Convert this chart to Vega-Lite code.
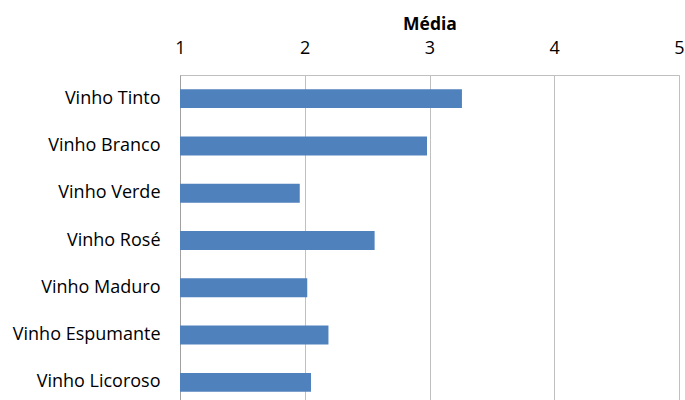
{
  "$schema": "https://vega.github.io/schema/vega-lite/v6.json",
  "width": 499,
  "height": 331,
  "autosize": "none",
  "padding": {"left": 180, "top": 75, "right": 6, "bottom": 0},
  "background": "white",
  "config": {
    "view": {"stroke": "#c0c0c0", "strokeWidth": 1},
    "font": "Open Sans"
  },
  "data": {
    "values": [
      {"vinho": "Vinho Tinto", "media": 3.26},
      {"vinho": "Vinho Branco", "media": 2.98},
      {"vinho": "Vinho Verde", "media": 1.96},
      {"vinho": "Vinho Rosé", "media": 2.56},
      {"vinho": "Vinho Maduro", "media": 2.02},
      {"vinho": "Vinho Espumante", "media": 2.19},
      {"vinho": "Vinho Licoroso", "media": 2.05}
    ]
  },
  "mark": {"type": "bar", "color": "#4f81bd"},
  "encoding": {
    "y": {
      "field": "vinho",
      "type": "nominal",
      "sort": null,
      "scale": {"paddingInner": 0.6, "paddingOuter": 0.3},
      "axis": {
        "title": null,
        "ticks": false,
        "domain": true,
        "domainColor": "#a0a0a0",
        "labelPadding": 20,
        "labelFontSize": 18,
        "labelColor": "#000000",
        "labelFont": "Open Sans"
      }
    },
    "x": {
      "field": "media",
      "type": "quantitative",
      "scale": {"domain": [1, 5], "zero": false, "nice": false},
      "axis": {
        "orient": "top",
        "title": "Média",
        "titleFontSize": 17.5,
        "titleFontWeight": "bold",
        "titleColor": "#000000",
        "titlePadding": 6,
        "values": [1, 2, 3, 4, 5],
        "format": "d",
        "ticks": false,
        "domain": false,
        "labelPadding": 18,
        "labelFontSize": 18,
        "labelColor": "#000000",
        "grid": true,
        "gridColor": "#c0c0c0",
        "labelFlush": false
      }
    },
    "x2": {"datum": 1}
  }
}
